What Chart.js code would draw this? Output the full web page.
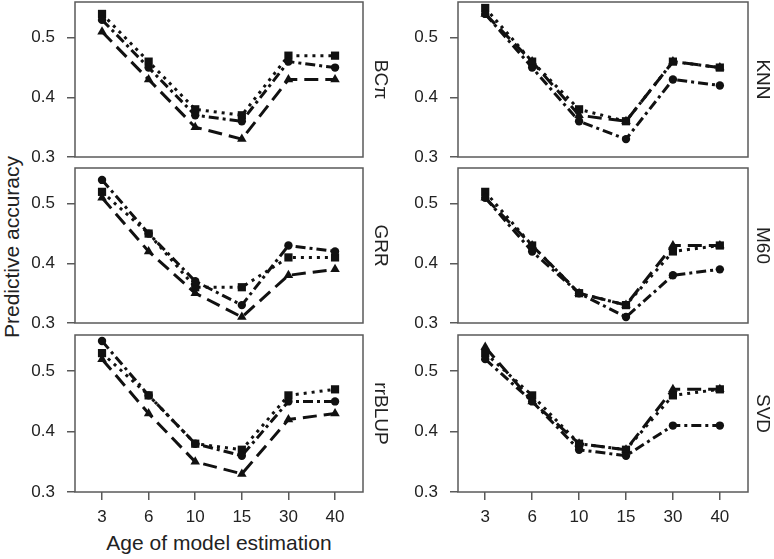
<!DOCTYPE html>
<html>
<head>
<meta charset="utf-8">
<script src="https://cdn.jsdelivr.net/npm/chart.js@4.4.1/dist/chart.umd.min.js"></script>
<style>
body{margin:0;background:#fff;width:774px;height:559px;position:relative;overflow:hidden;font-family:"Liberation Sans",Arial,sans-serif;color:#222}
canvas{position:absolute}
.ytitle{position:absolute;left:12px;top:247px;transform:translate(-50%,-50%) rotate(-90deg);font-size:21px;white-space:nowrap}
.xtitle{position:absolute;left:219px;top:543px;transform:translate(-50%,-50%);font-size:21px;white-space:nowrap}
</style>
</head>
<body>
<div class="ytitle">Predictive accuracy</div>
<div class="xtitle">Age of model estimation</div>
<script>
// x categories and y ticks
var ages = ['3', '6', '10', '15', '30', '40'];
var yTicks = [0.3, 0.4, 0.5];
var methods = ['BCπ', 'KNN', 'GRR', 'M60', 'rrBLUP', 'SVD'];

// series values (circle, square, triangle)
var bcpiCircle   = [0.53, 0.45, 0.37, 0.36, 0.46, 0.45];
var bcpiSquare   = [0.54, 0.46, 0.38, 0.37, 0.47, 0.47];
var bcpiTriangle = [0.51, 0.43, 0.35, 0.33, 0.43, 0.43];

var knnCircle    = [0.54, 0.45, 0.36, 0.33, 0.43, 0.42];
var knnSquare    = [0.55, 0.46, 0.38, 0.36, 0.46, 0.45];
var knnTriangle  = [0.54, 0.46, 0.37, 0.36, 0.46, 0.45];

var grrCircle    = [0.54, 0.45, 0.37, 0.33, 0.43, 0.42];
var grrSquare    = [0.52, 0.45, 0.36, 0.36, 0.41, 0.41];
var grrTriangle  = [0.51, 0.42, 0.35, 0.31, 0.38, 0.39];

var m60Circle    = [0.51, 0.42, 0.35, 0.31, 0.38, 0.39];
var m60Square    = [0.52, 0.43, 0.35, 0.33, 0.42, 0.43];
var m60Triangle  = [0.51, 0.43, 0.35, 0.33, 0.43, 0.43];

var rrblupCircle   = [0.55, 0.46, 0.38, 0.36, 0.45, 0.45];
var rrblupSquare   = [0.53, 0.46, 0.38, 0.37, 0.46, 0.47];
var rrblupTriangle = [0.52, 0.43, 0.35, 0.33, 0.42, 0.43];

var svdCircle    = [0.52, 0.45, 0.37, 0.36, 0.41, 0.41];
var svdSquare    = [0.53, 0.46, 0.38, 0.37, 0.46, 0.47];
var svdTriangle  = [0.54, 0.45, 0.38, 0.37, 0.47, 0.47];

var panels = [
    {name: methods[0], col: 0, row: 0, c: bcpiCircle, s: bcpiSquare, t: bcpiTriangle},
    {name: methods[1], col: 1, row: 0, c: knnCircle, s: knnSquare, t: knnTriangle},
    {name: methods[2], col: 0, row: 1, c: grrCircle, s: grrSquare, t: grrTriangle},
    {name: methods[3], col: 1, row: 1, c: m60Circle, s: m60Square, t: m60Triangle},
    {name: methods[4], col: 0, row: 2, c: rrblupCircle, s: rrblupSquare, t: rrblupTriangle},
    {name: methods[5], col: 1, row: 2, c: svdCircle, s: svdSquare, t: svdTriangle}
];

// layout of the grid
var rowTop = [2, 168, 335];
var rowBottom = [157, 323, 492];
var colCanvas = [{left: 0, width: 400, yW: 75, padR: 37, lab: 17},
                 {left: 384, width: 390, yW: 74, padR: 26, lab: 14}];
var ink = '#111';
var frame = '#5a5a5a';

// draws the box round the plot and the method name on its right
var panelBox = {
    id: 'panelBox',
    afterDraw: function(chart, args, opts){
        var ctx = chart.ctx, a = chart.chartArea;
        ctx.save();
        ctx.strokeStyle = frame;
        ctx.lineWidth = 1.5;
        ctx.strokeRect(a.left, a.top, a.right - a.left, a.bottom - a.top);
        ctx.translate(a.right + opts.offset, (a.top + a.bottom) / 2);
        ctx.rotate(Math.PI / 2);
        ctx.font = '19px "Liberation Sans", Arial, sans-serif';
        ctx.fillStyle = '#222';
        ctx.textAlign = 'center';
        ctx.textBaseline = 'middle';
        ctx.fillText(opts.text, 0, 0);
        ctx.restore();
    }
};

function toPoints(vals){
    return vals.map(function(v, i){ return {x: i, y: v}; });
}

function makeSeries(vals, style, dash, r){
    return {
        data: toPoints(vals),
        borderColor: ink,
        backgroundColor: ink,
        borderWidth: 3,
        borderDash: dash,
        pointStyle: style,
        pointRadius: r,
        pointBorderWidth: 0,
        fill: false,
        tension: 0
    };
}

function drawPanel(p){
    var cc = colCanvas[p.col];
    var bottomRow = p.row == 2;
    var top = rowTop[p.row] - 20;
    var h = rowBottom[p.row] - rowTop[p.row] + 20 + (bottomRow ? 50 : 20);

    var cv = document.createElement('canvas');
    cv.width = cc.width;
    cv.height = h;
    cv.style.left = cc.left + 'px';
    cv.style.top = top + 'px';
    document.body.appendChild(cv);

    new Chart(cv, {
        type: 'line',
        data: {
            datasets: [
                makeSeries(p.t, 'triangle', [14, 7], 5.5),
                makeSeries(p.c, 'circle', [10, 4, 3, 4], 4.2),
                makeSeries(p.s, 'rect', [3, 5], 5.8)
            ]
        },
        plugins: [panelBox],
        options: {
            responsive: false,
            animation: false,
            devicePixelRatio: 1,
            layout: {padding: {left: 0, top: 20, right: cc.padR, bottom: bottomRow ? 10 : 20}},
            plugins: {
                legend: {display: false},
                tooltip: {enabled: false},
                panelBox: {text: p.name, offset: cc.lab}
            },
            scales: {
                x: {
                    type: 'linear',
                    display: bottomRow,
                    min: -0.58,
                    max: 5.6,
                    afterBuildTicks: function(s){ s.ticks = ages.map(function(a, i){ return {value: i}; }); },
                    afterFit: function(s){ s.height = bottomRow ? 40 : 0; s.paddingLeft = 0; s.paddingRight = 0; },
                    grid: {drawOnChartArea: false, drawTicks: true, tickLength: 8, color: frame, lineWidth: 1.5},
                    border: {display: false},
                    ticks: {
                        padding: 7,
                        color: '#222',
                        font: {family: '"Liberation Sans", Arial, sans-serif', size: 17},
                        callback: function(v){ return ages[v]; }
                    }
                },
                y: {
                    min: 0.3,
                    max: 0.56,
                    afterBuildTicks: function(s){ s.ticks = yTicks.map(function(v){ return {value: v}; }); },
                    afterFit: function(s){ s.width = cc.yW; s.paddingTop = 0; s.paddingBottom = 0; },
                    grid: {drawOnChartArea: false, drawTicks: true, tickLength: 8, color: frame, lineWidth: 1.5},
                    border: {display: false},
                    ticks: {
                        padding: 12,
                        color: '#222',
                        font: {family: '"Liberation Sans", Arial, sans-serif', size: 17},
                        callback: function(v){ return v.toFixed(1); }
                    }
                }
            }
        }
    });
}

panels.forEach(drawPanel);
</script>
</body>
</html>
